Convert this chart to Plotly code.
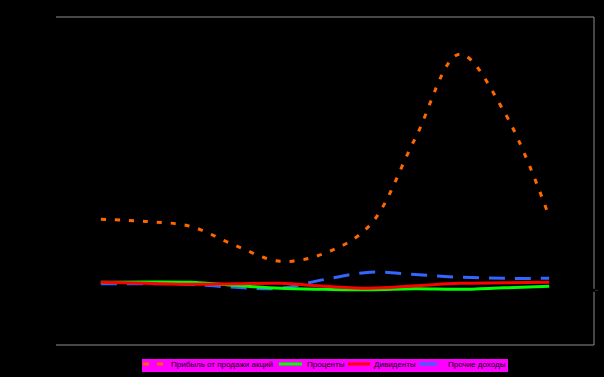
import plotly.graph_objects as go

periods = list(range(11))
sale_profit = [1.30, 1.26, 1.17, 0.82, 0.53, 0.68, 1.19, 2.76, 4.32, 3.26, 1.35]
interest = [0.146, 0.152, 0.146, 0.091, 0.037, 0.018, 0.009, 0.027, 0.018, 0.046, 0.073]
dividends = [0.146, 0.128, 0.110, 0.119, 0.128, 0.073, 0.037, 0.082, 0.128, 0.137, 0.146]
other_income = [0.12, 0.12, 0.11, 0.055, 0.037, 0.20, 0.33, 0.29, 0.24, 0.22, 0.22]

names = ["Прибыль от продажи акций", "Проценты", "Дивиденты", "Прочие доходы"]
colors = ["#FF6600", "#00FF00", "#FF0000", "#3366FF"]
dashes = ["5px,9px", "solid", "solid", "16px,10px"]

W, H = 604, 377
L, R, T, B = 56, 10, 17, 32
PW, PH = W - L - R, H - T - B


def px_x(p):
    return (p - L) / PW


def px_y(p):
    return (H - B - p) / PH


fig = go.Figure()
fig.add_trace(go.Scatter(x=periods, y=other_income, name=names[3], mode="lines",
                         line=dict(color=colors[3], width=3, dash=dashes[3], shape="spline")))
fig.add_trace(go.Scatter(x=periods, y=interest, name=names[1], mode="lines",
                         line=dict(color=colors[1], width=3, shape="spline")))
fig.add_trace(go.Scatter(x=periods, y=dividends, name=names[2], mode="lines",
                         line=dict(color=colors[2], width=3, shape="spline")))
fig.add_trace(go.Scatter(x=periods, y=sale_profit, name=names[0], mode="lines",
                         line=dict(color=colors[0], width=3, dash=dashes[0], shape="spline")))

grey = "#8C8C8C"
shapes = [
    dict(type="line", xref="paper", yref="paper", x0=0, x1=1, y0=1, y1=1, line=dict(color=grey, width=1)),
    dict(type="line", xref="paper", yref="paper", x0=0, x1=1, y0=0, y1=0, line=dict(color=grey, width=1)),
    dict(type="line", xref="paper", yref="paper", x0=1, x1=1, y0=0, y1=1, line=dict(color=grey, width=1)),
    dict(type="line", xref="paper", yref="y", x0=0.995, x1=1.006, y0=0, y1=0, line=dict(color="#000000", width=3)),
    dict(type="line", xref="paper", yref="y", x0=1.002, x1=1.008, y0=0, y1=0, line=dict(color="#333333", width=1)),
    # legend box
    dict(type="rect", xref="paper", yref="paper", x0=px_x(142), x1=px_x(508), y0=px_y(372), y1=px_y(359),
         fillcolor="#FF00FF", line=dict(width=0), layer="above"),
]

# legend entries: (symbol start, symbol end, text start) in pixels
legend_pos = [(143, 164, 169), (279, 302, 305), (348, 370, 372), (419, 437, 446)]
legend_y = 364
annotations = []
for i, (s0, s1, tx) in enumerate(legend_pos):
    shapes.append(dict(type="line", xref="paper", yref="paper", x0=px_x(s0), x1=px_x(s1),
                       y0=px_y(legend_y), y1=px_y(legend_y),
                       line=dict(color=colors[i], width=3, dash=("6px,8px" if i == 0 else "solid")),
                       layer="above"))
    annotations.append(dict(x=px_x(tx), y=px_y(legend_y + 0.5), xref="paper", yref="paper",
                            text=names[i], showarrow=False, xanchor="left", yanchor="middle",
                            font=dict(family="Liberation Sans", size=8, color="#000000")))

fig.update_layout(
    width=W, height=H,
    margin=dict(l=L, r=R, t=T, b=B),
    paper_bgcolor="#000000", plot_bgcolor="#000000",
    xaxis=dict(range=[-1, 11], showgrid=False, zeroline=False, showticklabels=False, showline=False),
    yaxis=dict(range=[-1, 5], showgrid=False, zeroline=False, showticklabels=False, showline=False),
    shapes=shapes,
    annotations=annotations,
    showlegend=False,
)

fig.write_html("out.html")
